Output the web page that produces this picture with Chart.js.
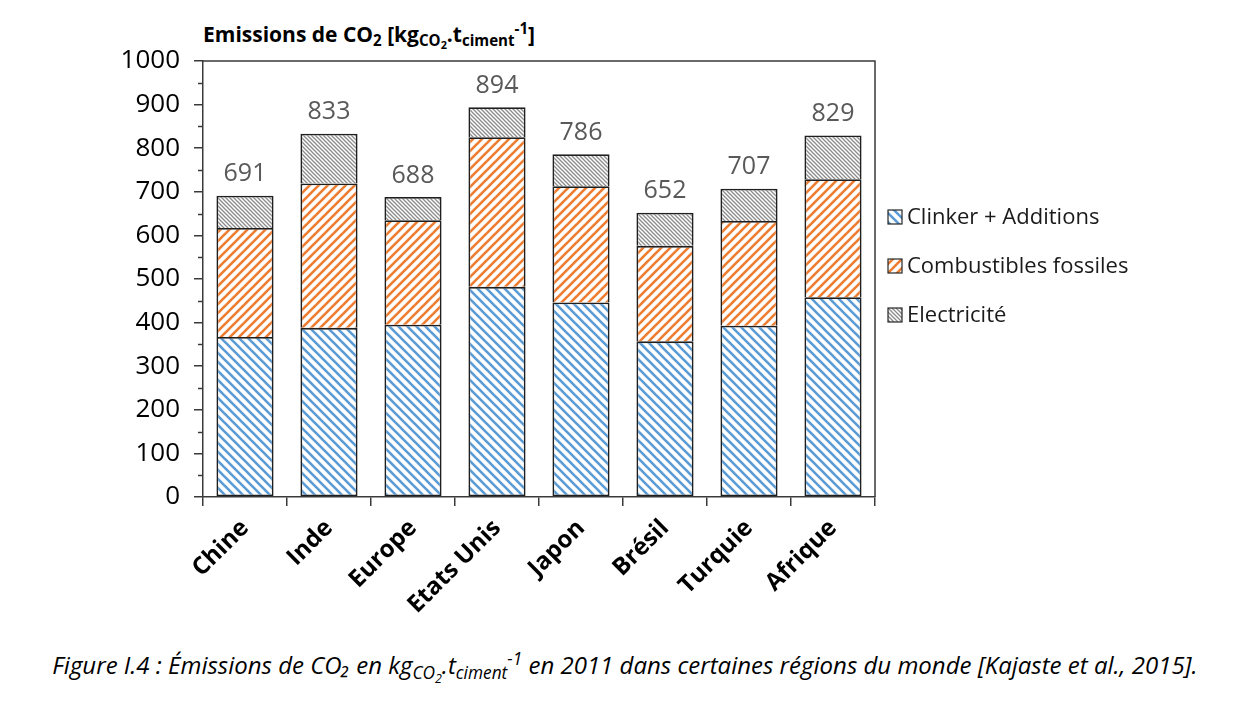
<!DOCTYPE html>
<html>
<head>
<meta charset="utf-8">
<script src="https://cdn.jsdelivr.net/npm/chart.js@4/dist/chart.umd.min.js"></script>
<style>
  html, body { margin: 0; padding: 0; background: #fff; }
  body { width: 1250px; height: 702px; position: relative; overflow: hidden; font-family: "Open Sans", sans-serif; }
  #chart { position: absolute; left: 0; top: 0; }
  .title { position: absolute; left: 203px; top: 21px; font-size: 21px; font-weight: bold; color: #000; line-height: 1; white-space: nowrap; }
  .title sub, .caption sub { font-size: 0.72em; vertical-align: -0.3em; }
  .title sup, .caption sup { font-size: 0.72em; vertical-align: 0.5em; }
  .caption { position: absolute; left: 0; width: 1250px; top: 647px; text-align: center; font-size: 24px; font-style: italic; color: #000; white-space: nowrap; }
</style>
</head>
<body>
<div class="title">Emissions de CO<sub>2</sub> [kg<sub>CO<sub>2</sub></sub>.t<sub>ciment</sub><sup>-1</sup>]</div>
<canvas id="chart" width="1250" height="640"></canvas>
<div class="caption">Figure I.4 : Émissions de CO₂ en kg<sub>CO<sub>2</sub></sub>.t<sub>ciment</sub><sup>-1</sup> en 2011 dans certaines régions du monde [Kajaste et al., 2015].</div>
<script>
const regions = ["Chine", "Inde", "Europe", "Etats Unis", "Japon", "Brésil", "Turquie", "Afrique"];
const clinker = [367, 388, 395, 482, 446, 357, 393, 458];
const fossiles = [250, 331, 240, 343, 267, 219, 240, 271];
const electricite = [74, 114, 53, 69, 73, 76, 74, 100];
const seriesNames = ["Clinker + Additions", "Combustibles fossiles", "Electricité"];
const yTicks = [0, 100, 200, 300, 400, 500, 600, 700, 800, 900, 1000];

const ctx = document.getElementById("chart").getContext("2d");
Chart.defaults.font.family = "'Open Sans', sans-serif";
Chart.defaults.color = "#000";

// hatch tiles: dir 1 = "\\", dir -1 = "/"
function hatch(color, size, width, dir) {
  const c = document.createElement("canvas");
  c.width = size;
  c.height = size;
  const g = c.getContext("2d");
  g.fillStyle = "#fff";
  g.fillRect(0, 0, size, size);
  g.strokeStyle = color;
  g.lineWidth = width;
  for (let k = -1; k <= 1; k++) {
    g.beginPath();
    if (dir > 0) {
      g.moveTo(k * size - 1, -1);
      g.lineTo(k * size + size + 1, size + 1);
    } else {
      g.moveTo(k * size - 1, size + 1);
      g.lineTo(k * size + size + 1, -1);
    }
    g.stroke();
  }
  return ctx.createPattern(c, "repeat");
}

const blueHatch = hatch("#5B9BD5", 9, 2.6, 1);
const orangeHatch = hatch("#ED7D31", 9, 2.6, -1);
const greyHatch = hatch("#8C8C8C", 4, 1.3, 1);
const fills = [blueHatch, orangeHatch, greyHatch];

const extras = {
  id: "extras",
  afterDatasetsDraw(chart) {
    const { ctx: c, chartArea: a, scales } = chart;
    const y = scales.y;
    const x = scales.x;
    c.save();
    // frame top + right
    c.strokeStyle = "#3a3a3a";
    c.lineWidth = 1.5;
    c.beginPath();
    c.moveTo(a.left, a.top);
    c.lineTo(a.right, a.top);
    c.lineTo(a.right, a.bottom);
    c.stroke();
    // minor ticks
    for (let v = 50; v < 1000; v += 100) {
      const py = Math.round(y.getPixelForValue(v)) + 0.5;
      c.beginPath();
      c.moveTo(a.left - 5, py);
      c.lineTo(a.left, py);
      c.stroke();
    }
    // totals above bars
    c.fillStyle = "#595959";
    c.font = "25px 'Open Sans', sans-serif";
    c.textAlign = "center";
    c.textBaseline = "bottom";
    regions.forEach((r, i) => {
      const total = clinker[i] + fossiles[i] + electricite[i];
      c.fillText(String(total), x.getPixelForValue(i), y.getPixelForValue(total) - 9);
    });
    // legend
    const legendY = [217, 266, 315];
    c.font = "22px 'Open Sans', sans-serif";
    c.textAlign = "left";
    c.textBaseline = "middle";
    seriesNames.forEach((name, i) => {
      c.fillStyle = fills[i];
      c.fillRect(888, legendY[i] - 7, 14, 14);
      c.strokeStyle = "#262626";
      c.lineWidth = 1.2;
      c.strokeRect(888, legendY[i] - 7, 14, 14);
      c.fillStyle = "#1a1a1a";
      c.fillText(name, 907, legendY[i] + 1);
    });
    c.restore();
  }
};

function ds(label, data, fill, skip) {
  return {
    label: label,
    data: data,
    backgroundColor: fill,
    borderColor: "#1f1f1f",
    borderWidth: 1.8,
    borderSkipped: skip,
    categoryPercentage: 1,
    barPercentage: 0.68
  };
}

new Chart(ctx, {
  type: "bar",
  data: {
    labels: regions,
    datasets: [
      ds(seriesNames[0], clinker, blueHatch, false),
      ds(seriesNames[1], fossiles, orangeHatch, "bottom"),
      ds(seriesNames[2], electricite, greyHatch, "bottom")
    ]
  },
  options: {
    responsive: false,
    animation: false,
    layout: { padding: { top: 61, right: 375, left: 0, bottom: 0 } },
    plugins: {
      legend: { display: false },
      tooltip: { enabled: false }
    },
    scales: {
      x: {
        stacked: true,
        afterFit(scale) { scale.height = 640 - 497; },
        grid: { offset: true, drawOnChartArea: false, tickLength: 9, color: "#3a3a3a", lineWidth: 1.5 },
        border: { color: "#3a3a3a", width: 1.5 },
        ticks: { minRotation: 45, maxRotation: 45, padding: 8, font: { size: 24, weight: "bold" }, color: "#000" }
      },
      y: {
        stacked: true,
        min: 0,
        max: 1000,
        afterFit(scale) { scale.width = 203; },
        afterBuildTicks(scale) { scale.ticks = yTicks.map((v) => ({ value: v })); },
        grid: { drawOnChartArea: false, tickLength: 9, color: "#3a3a3a", lineWidth: 1.5 },
        border: { color: "#3a3a3a", width: 1.5 },
        ticks: { padding: 14, font: { size: 26 }, color: "#000", callback: (v) => String(v) }
      }
    }
  },
  plugins: [extras]
});
</script>
</body>
</html>
